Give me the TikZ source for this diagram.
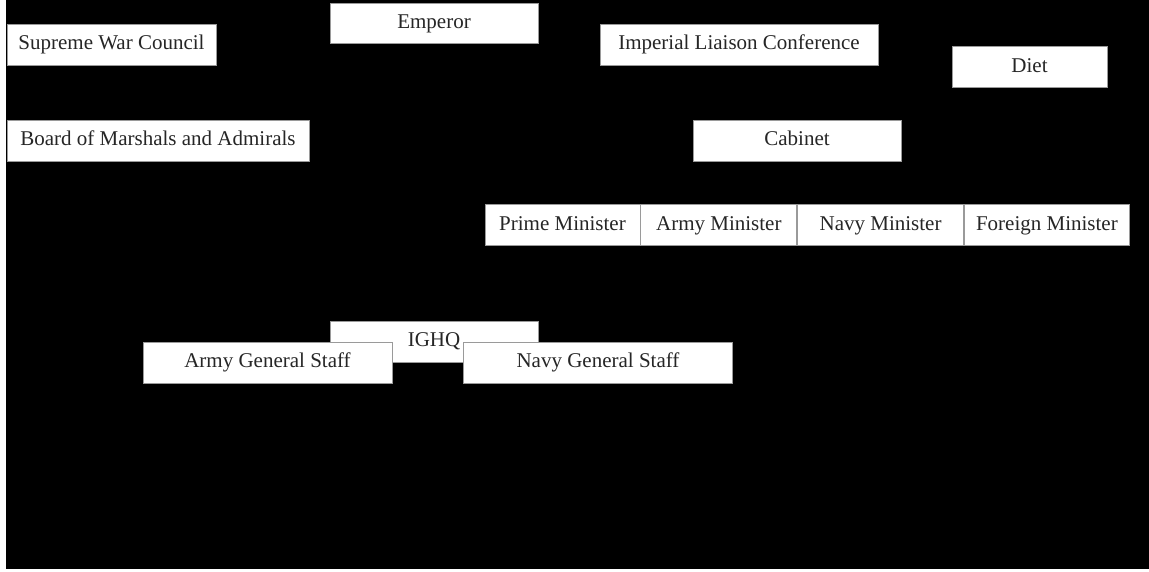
\documentclass[tikz,border=0pt]{standalone}
\usepackage{fontspec}
\setmainfont{Liberation Serif}
\usepackage{xcolor}
\usepackage{tikz}
\usetikzlibrary{positioning}
\definecolor{panelbg}{HTML}{000000}
\definecolor{boxedge}{HTML}{9A9A9A}

\begin{document}
\begin{tikzpicture}[
    x=1pt, y=-1pt,
    font=\fontsize{21}{25}\selectfont,
    orgbox/.style={
      draw=boxedge, fill=white,
      line width=0.8pt,
      align=center,
      minimum height=41pt,
      inner sep=0pt,
      text height=14pt, text depth=4pt,
      text=black!85,
    },
  ]

  % -----------------------------------------------------------
  % Canvas (white margin left and bottom, black panel)
  % -----------------------------------------------------------
  \useasboundingbox[fill=white] (0, 0) rectangle (1149, 571);
  \fill[panelbg] (6, 0) rectangle (1149, 569);

  % -----------------------------------------------------------
  % Top row: throne and councils
  % -----------------------------------------------------------
  \node[orgbox, minimum width=208pt, minimum height=40pt]
                   (emperor) at (434, 23.5)   {Emperor};
  \node[orgbox, minimum width=209pt]
                   (swc)     at (111.5, 44.5) {Supreme War Council};
  \node[orgbox, minimum width=278pt]
                   (ilc)     at (739, 44.5)   {Imperial Liaison Conference};
  \node[orgbox, minimum width=155pt]
                   (diet)    at (1029.5, 67)  {Diet};

  \node[orgbox, minimum width=302pt]
                   (bma)     at (158, 140.5)  {Board of Marshals and Admirals};
  \node[orgbox, minimum width=208pt]
                   (cabinet) at (797, 140.5)  {Cabinet};

  % -----------------------------------------------------------
  % Ministers (one strip of four boxes)
  % -----------------------------------------------------------
  \node[orgbox, minimum width=155pt]
                   (pm) at (562.5, 225)  {Prime Minister};
  \node[orgbox, minimum width=156pt, right=0pt of pm]  (am) {Army Minister};
  \node[orgbox, minimum width=166pt, right=0pt of am]  (nm) {Navy Minister};
  \node[orgbox, minimum width=165pt, right=0pt of nm]  (fm) {Foreign Minister};

  % -----------------------------------------------------------
  % Imperial General Headquarters and its two staffs
  % -----------------------------------------------------------
  \node[orgbox, minimum width=208pt]
                   (ighq) at (434, 341.5)   {IGHQ};
  \node[orgbox, minimum width=249pt]
                   (ags)  at (267.5, 362.5) {Army General Staff};
  \node[orgbox, minimum width=269pt]
                   (ngs)  at (598, 362.5)   {Navy General Staff};

\end{tikzpicture}
\end{document}
